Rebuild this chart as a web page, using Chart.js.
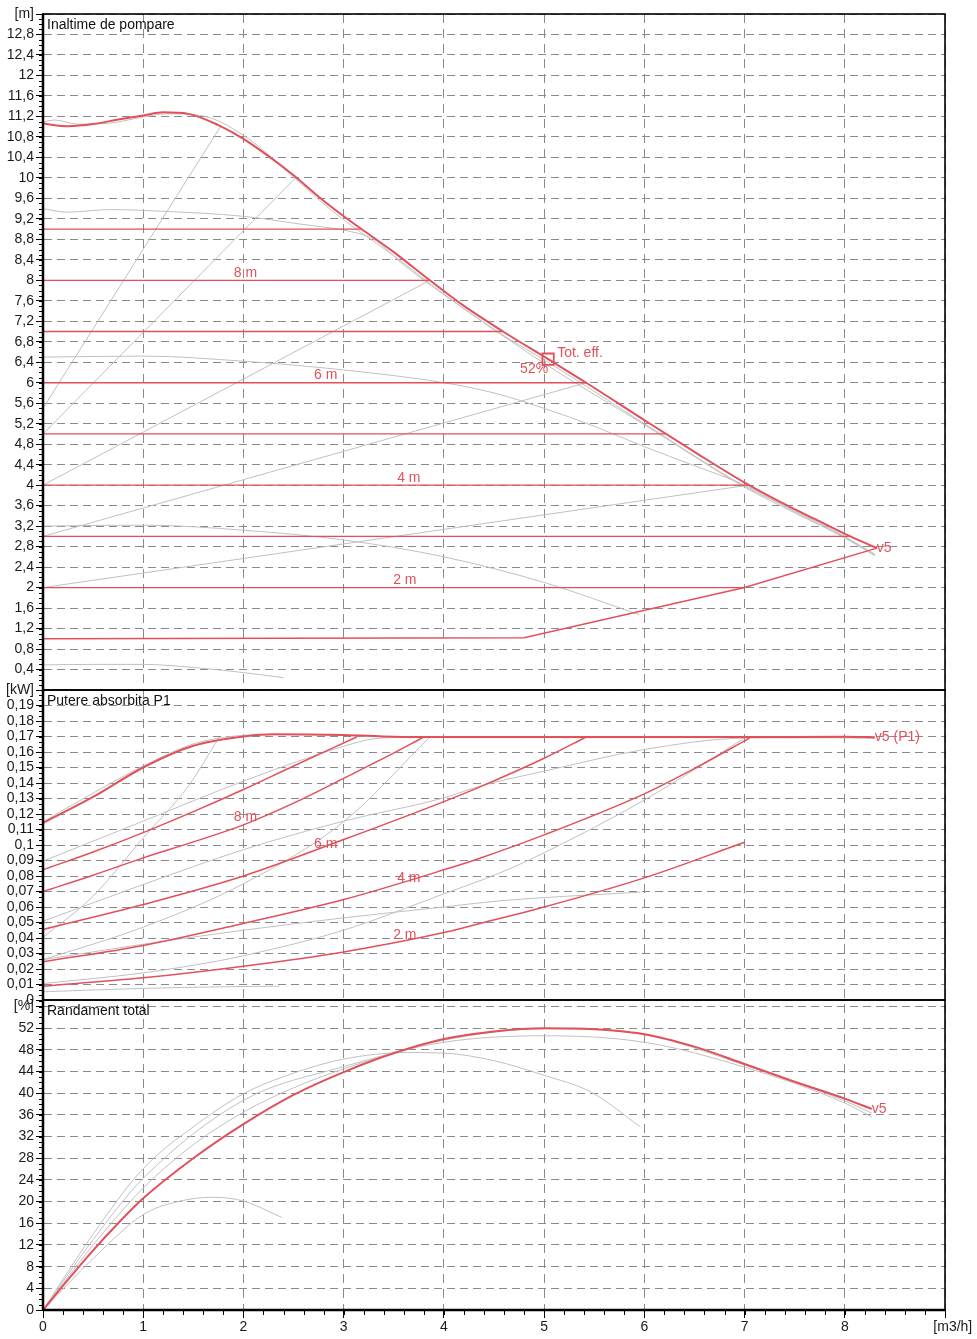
<!DOCTYPE html>
<html>
<head>
<meta charset="utf-8">
<script src="https://cdn.jsdelivr.net/npm/chart.js@4.4.0/dist/chart.umd.min.js"></script>
<style>
  html, body { margin: 0; padding: 0; background: #fff; }
  #wrap { width: 977px; height: 1339px; }
</style>
</head>
<body>
<div id="wrap"><canvas id="pumpChart" width="977" height="1339"></canvas></div>
<script>
// ---- axis ticks ----
const flowTicks = [0, 1, 2, 3, 4, 5, 6, 7, 8, 9];
const headTicks = [0, 0.4, 0.8, 1.2, 1.6, 2, 2.4, 2.8, 3.2, 3.6, 4, 4.4, 4.8, 5.2, 5.6, 6, 6.4, 6.8, 7.2, 7.6, 8,
    8.4, 8.8, 9.2, 9.6, 10, 10.4, 10.8, 11.2, 11.6, 12, 12.4, 12.8, 13.2];
const powerTicks = [0, 0.01, 0.02, 0.03, 0.04, 0.05, 0.06, 0.07, 0.08, 0.09, 0.1, 0.11, 0.12, 0.13, 0.14, 0.15,
    0.16, 0.17, 0.18, 0.19, 0.2];
const effTicks = [0, 4, 8, 12, 16, 20, 24, 28, 32, 36, 40, 44, 48, 52, 56];
const unitLabels = { x: '[m3/h]', yH: '[m]', yP: '[kW]', yE: '[%]' };
const panelTitles = { yH: 'Inaltime de pompare', yP: 'Putere absorbita P1', yE: 'Randament total' };

// ---- head panel ----
const qMax = [0, 0.25, 0.5, 0.75, 1.0, 1.2, 1.45, 1.75, 2.0, 2.5, 2.75, 3.0, 3.5, 3.86, 4.2, 4.59, 5.04, 5.42, 6.0, 6.5, 7.0, 7.35, 7.7, 8.0, 8.32];
const hMax = [11.06, 11.01, 11.05, 11.14, 11.22, 11.28, 11.25, 11.03, 10.76, 10.05, 9.63, 9.25, 8.55, 8.0, 7.5, 7.0, 6.46, 6.0, 5.27, 4.65, 4.05, 3.68, 3.34, 3.05, 2.77];
const qMin = [0, 4.8, 7.0, 8.32];
const hMin = [1.0, 1.02, 2.0, 2.77];
// constant pressure settings and where each line stops
const hConst = [9, 8, 7, 6, 5, 4, 3, 2];
const qConstEnd = [3.18, 3.86, 4.59, 5.42, 6.22, 7.04, 8.05, 7.0];
// proportional pressure lines (start head at zero flow, end point)
const hPropStart = [5.5, 5.0, 4.0, 3.0, 2.0];
const qPropEnd = [1.77, 2.52, 3.86, 5.42, 7.04];
const hPropEnd = [11.0, 10.0, 8.0, 6.0, 4.0];
// grey speed curves
const qSpd1 = [0, 0.12, 0.34, 0.67, 1.0, 1.23, 1.57, 2.0, 2.5, 2.76, 3.0, 3.5, 4.0, 4.59, 5.04, 5.42, 6.0, 7.0, 7.5, 8.0, 8.3];
const hSpd1 = [11.09, 11.13, 11.05, 11.07, 11.19, 11.25, 11.22, 10.83, 10.02, 9.56, 9.18, 8.48, 7.73, 6.93, 6.4, 5.93, 5.2, 3.98, 3.5, 3.0, 2.65];
const qSpd2 = [0, 0.24, 0.67, 1.17, 2.0, 2.56, 2.76, 3.0, 3.3, 3.6, 4.0, 5.0, 6.0, 7.0, 7.5, 8.0, 8.3];
const hSpd2 = [9.4, 9.33, 9.38, 9.35, 9.25, 9.1, 9.05, 8.98, 8.8, 8.3, 7.72, 6.38, 5.18, 3.96, 3.46, 2.97, 2.62];
const qSpd3 = [0, 1, 2, 3, 4, 4.5, 5, 5.5, 6, 6.5, 7, 7.5, 8, 8.3];
const hSpd3 = [6.5, 6.52, 6.42, 6.25, 6.0, 5.8, 5.5, 5.15, 4.75, 4.38, 4.0, 3.48, 2.98, 2.64];
const qSpd4 = [0, 1, 2, 3, 4, 5, 5.95];
const hSpd4 = [3.2, 3.22, 3.12, 2.93, 2.6, 2.1, 1.47];
const qSpd5 = [0, 0.5, 1, 1.5, 2, 2.4];
const hSpd5 = [0.49, 0.5, 0.5, 0.44, 0.34, 0.24];

// ---- power panel ----
const qPMax = [0, 0.5, 1, 1.5, 2, 2.3, 3, 3.5, 4, 5, 6, 7, 8, 8.3];
const pMax = [0.1143, 0.131, 0.15, 0.164, 0.17, 0.1715, 0.171, 0.1698, 0.1696, 0.1697, 0.1697, 0.1697, 0.1698, 0.1695];
const qP9 = [0, 0.5, 1, 1.5, 2, 2.5, 3.13];
const pP9 = [0.084, 0.0955, 0.108, 0.1215, 0.1358, 0.151, 0.1697];
const qP8 = [0, 0.5, 1, 1.5, 2, 2.5, 3, 3.4, 3.8];
const pP8 = [0.07, 0.0805, 0.0917, 0.102, 0.113, 0.127, 0.143, 0.156, 0.1697];
const qP6 = [0, 1, 2, 3, 4, 4.36, 5.0, 5.42];
const pP6 = [0.0455, 0.0616, 0.08, 0.1035, 0.128, 0.1375, 0.156, 0.1697];
const qP4 = [0, 1, 2, 3, 4, 4.36, 5, 6, 6.49, 7.05];
const pP4 = [0.0246, 0.0352, 0.0494, 0.0648, 0.084, 0.0915, 0.1065, 0.133, 0.149, 0.169];
const qP2 = [0, 1, 2, 3, 4, 4.36, 5, 6, 7];
const pP2 = [0.0089, 0.0143, 0.0218, 0.031, 0.0435, 0.0494, 0.06, 0.0788, 0.1018];
// grey power curves
const qGP1 = [0, 0.5, 1, 1.5, 1.9, 2.3, 3, 3.5, 4, 5, 6, 7, 8, 8.3];
const pGP1 = [0.115, 0.1335, 0.151, 0.1652, 0.1702, 0.1712, 0.1708, 0.1696, 0.1693, 0.1693, 0.1693, 0.1693, 0.1693, 0.169];
const qGP2 = [0, 1, 2, 3, 3.3, 3.6, 4, 5, 6, 7, 8, 8.3];
const pGP2 = [0.0896, 0.1154, 0.1412, 0.1637, 0.1685, 0.1693, 0.1693, 0.1693, 0.1693, 0.1693, 0.1693, 0.169];
const qGP3 = [0, 1, 2, 3, 4, 4.36, 5, 6, 7, 7.5, 8, 8.3];
const pGP3 = [0.0508, 0.0745, 0.097, 0.1154, 0.1304, 0.138, 0.1476, 0.1616, 0.169, 0.1692, 0.1692, 0.169];
const qGP4 = [0, 1, 2, 3, 4, 4.56, 5.96];
const pGP4 = [0.026, 0.036, 0.045, 0.053, 0.06, 0.064, 0.0696];
const qGP5 = [0, 1, 2, 2.36];
const pGP5 = [0.0053, 0.0075, 0.0087, 0.0089];
const qGP6 = [0, 1, 1.73, 2, 3, 4, 4.56, 5, 6, 7];
const pGP6 = [0.0106, 0.0175, 0.025, 0.0285, 0.045, 0.0685, 0.082, 0.095, 0.129, 0.169];
const qGP7 = [0, 0.5, 1, 1.45, 1.76];
const pGP7 = [0.0404, 0.067, 0.1046, 0.138, 0.1697];
const qGP8 = [0, 1, 2, 3, 3.86];
const pGP8 = [0.026, 0.047, 0.075, 0.115, 0.1697];

// ---- efficiency panel ----
const qEMax = [0, 0.25, 0.5, 0.75, 1, 1.5, 2, 2.49, 3, 3.52, 4, 4.5, 5, 5.3, 6, 6.5, 7, 7.47, 8, 8.27];
const eMax = [0, 5.6, 11, 16, 20.6, 28.0, 34.3, 39.6, 43.9, 47.5, 50.0, 51.4, 52.0, 51.95, 50.9, 48.6, 45.4, 42.3, 39.0, 37.1];
const qEA = [0, 0.5, 1, 1.5, 2, 2.5, 3, 3.64, 4, 4.5, 5, 5.47, 5.96];
const eA = [0, 14, 26.1, 33.8, 39.9, 43.7, 46.3, 47.5, 47.4, 46, 43.3, 40.2, 33.8];
const qEB = [0, 0.5, 1, 2, 3, 4, 5, 6, 7, 8, 8.27];
const eB = [0, 13, 24.3, 38.7, 44.9, 49.4, 50.6, 49.4, 44.8, 38.2, 35.6];
const qEC = [0, 0.5, 1, 1.5, 2, 2.5, 3, 3.5, 4, 5, 6, 7, 8, 8.27];
const eC = [0, 12, 22.5, 30.5, 36.5, 41, 44.5, 47.4, 49.8, 51.9, 50.8, 45.2, 38.6, 36.3];
const qED = [0, 0.5, 1, 1.3, 1.69, 2, 2.38];
const eD = [0, 9.5, 17.6, 19.8, 20.8, 20.1, 17.1];

// ---- duty point and labels ----
const dutyQ = [5.04];
const dutyH = [6.46];
const noteText = ['8 m', '6 m', '4 m', '2 m', '8 m', '6 m', '4 m', '2 m', 'Tot. eff.', '52%', 'v5', 'v5 (P1)', 'v5'];
const noteAxis = ['yH', 'yH', 'yH', 'yH', 'yP', 'yP', 'yP', 'yP', 'yH', 'yH', 'yH', 'yP', 'yE'];
const noteQ = [2.02, 2.82, 3.65, 3.61, 2.02, 2.82, 3.65, 3.61, 5.13, 5.04, 8.32, 8.3, 8.27];
const noteV = [8.14, 6.14, 4.14, 2.14, 0.118, 0.1003, 0.0784, 0.0416, 6.58, 6.27, 2.77, 0.1695, 37.1];

const RED = 'rgb(226,80,90)';
const GREY = 'rgb(192,192,192)';
const FONT = 'Liberation Sans';

const pts = (xs, ys) => xs.map((x, i) => ({ x: x, y: ys[i] }));

function line(xs, ys, axis, color, width, order, straight) {
    const ds = {
        data: pts(xs, ys),
        yAxisID: axis,
        borderColor: color,
        backgroundColor: color,
        borderWidth: width,
        showLine: true,
        pointRadius: 0,
        fill: false,
        order: order
    };
    if (straight) {
        ds.tension = 0;
    } else {
        ds.cubicInterpolationMode = 'monotone';
    }
    return ds;
}

const datasets = [];
// grey first (drawn below)
[[qSpd1, hSpd1], [qSpd2, hSpd2], [qSpd3, hSpd3], [qSpd4, hSpd4], [qSpd5, hSpd5]].forEach(c => datasets.push(line(c[0], c[1], 'yH', GREY, 1, 2)));
hPropStart.forEach((h, i) => datasets.push(line([0, qPropEnd[i]], [h, hPropEnd[i]], 'yH', GREY, 1, 2, true)));
[[qGP1, pGP1], [qGP2, pGP2], [qGP3, pGP3], [qGP4, pGP4], [qGP5, pGP5], [qGP6, pGP6], [qGP7, pGP7], [qGP8, pGP8]]
    .forEach(c => datasets.push(line(c[0], c[1], 'yP', GREY, 1, 2)));
[[qEA, eA], [qEB, eB], [qEC, eC], [qED, eD]].forEach(c => datasets.push(line(c[0], c[1], 'yE', GREY, 1, 2)));
// red
hConst.forEach((h, i) => datasets.push(line([0, qConstEnd[i]], [h, h], 'yH', RED, 1.3, 1, true)));
datasets.push(line(qMin, hMin, 'yH', RED, 1.5, 0, true));
datasets.push(line(qMax, hMax, 'yH', RED, 2, 0));
[[qP9, pP9], [qP8, pP8], [qP6, pP6], [qP4, pP4], [qP2, pP2]].forEach(c => datasets.push(line(c[0], c[1], 'yP', RED, 1.5, 1)));
datasets.push(line(qPMax, pMax, 'yP', RED, 2, 0));
datasets.push(line(qEMax, eMax, 'yE', RED, 2, 0));
datasets.push({
    data: pts(dutyQ, dutyH),
    yAxisID: 'yH',
    showLine: false,
    pointStyle: 'rect',
    pointRadius: 8,
    pointBorderWidth: 1.8,
    pointBorderColor: RED,
    pointBackgroundColor: 'rgba(0,0,0,0)',
    order: 0
});

const fmt = v => String(v).replace('.', ',');

function yScale(ticks, max, weight, label) {
    return {
        type: 'linear',
        position: 'left',
        stack: 'panels',
        stackWeight: weight,
        min: 0,
        max: max,
        afterBuildTicks: s => { s.ticks = ticks.map(v => ({ value: v })); },
        afterFit: s => { s.width = 43; },
        grid: {
            color: '#8a8a8a',
            lineWidth: 1,
            tickLength: 7,
            tickColor: '#000',
            tickWidth: 1
        },
        border: { display: true, color: '#000', width: 2, dash: [8, 5] },
        ticks: {
            autoSkip: false,
            padding: 2,
            color: '#1a1a1a',
            font: { family: FONT, size: 14 },
            callback: label
        }
    };
}

const frames = {
    id: 'frames',
    afterDraw(chart) {
        const ctx = chart.ctx;
        const a = chart.chartArea;
        ctx.save();
        // minor ruler ticks
        ctx.strokeStyle = '#000';
        ctx.lineWidth = 1;
        const minor = { yH: 0.1, yP: 0.01 / 3, yE: 1 };
        Object.keys(minor).forEach(id => {
            const s = chart.scales[id];
            ctx.beginPath();
            for (let v = s.min; v <= s.max + 1e-9; v += minor[id]) {
                const y = Math.round(s.getPixelForValue(v)) + 0.5;
                ctx.moveTo(a.left - 4, y);
                ctx.lineTo(a.left, y);
            }
            ctx.stroke();
        });
        const sx = chart.scales.x;
        ctx.beginPath();
        for (let v = 0; v <= 9 + 1e-9; v += 0.2) {
            const x = Math.round(sx.getPixelForValue(v)) + 0.5;
            ctx.moveTo(x, a.bottom);
            ctx.lineTo(x, a.bottom + 5);
        }
        ctx.stroke();
        // panel frames and titles
        ctx.lineWidth = 1.6;
        ctx.font = '14px "' + FONT + '"';
        ctx.textBaseline = 'top';
        ctx.textAlign = 'left';
        ['yH', 'yP', 'yE'].forEach(id => {
            const s = chart.scales[id];
            ctx.strokeStyle = '#000';
            ctx.strokeRect(a.left, s.top, a.right - a.left, s.bottom - s.top);
            ctx.fillStyle = '#111';
            ctx.fillText(panelTitles[id], a.left + 4, s.top + 4);
        });
        ctx.lineWidth = 2.5;
        ctx.beginPath();
        ctx.moveTo(a.left, a.bottom);
        ctx.lineTo(a.right, a.bottom);
        ctx.moveTo(a.left, a.top);
        ctx.lineTo(a.left, a.bottom);
        ctx.stroke();
        // red notes
        ctx.fillStyle = RED;
        ctx.textBaseline = 'middle';
        noteText.forEach((t, i) => {
            const x = sx.getPixelForValue(noteQ[i]);
            const y = chart.scales[noteAxis[i]].getPixelForValue(noteV[i]);
            if (t === '52%') {
                ctx.textAlign = 'right';
            } else if (t.startsWith('v5') || t === 'Tot. eff.') {
                ctx.textAlign = 'left';
            } else {
                ctx.textAlign = 'center';
            }
            ctx.fillText(t, x, y);
        });
        ctx.restore();
    }
};

new Chart(document.getElementById('pumpChart'), {
    type: 'scatter',
    data: { datasets: datasets },
    options: {
        responsive: false,
        animation: false,
        layout: { padding: { left: 0, right: 32, top: 14, bottom: 0 } },
        plugins: { legend: { display: false }, tooltip: { enabled: false } },
        scales: {
            x: {
                type: 'linear',
                min: 0,
                max: 9,
                afterBuildTicks: s => { s.ticks = flowTicks.map(v => ({ value: v })); },
                afterFit: s => { s.height = 29; },
                grid: { color: '#8a8a8a', tickLength: 8, tickColor: '#000' },
                border: { display: true, color: '#000', width: 2, dash: [9, 6] },
                ticks: {
                    autoSkip: false,
                    padding: 1,
                    maxRotation: 0,
                    color: '#1a1a1a',
                    font: { family: FONT, size: 14 },
                    callback: v => v === 9 ? '    ' + unitLabels.x : String(v)
                }
            },
            yE: yScale(effTicks, 57.2, 310, v => v === 56 ? unitLabels.yE : String(v)),
            yP: yScale(powerTicks, 0.2, 310, v => v === 0.2 ? unitLabels.yP : fmt(v)),
            yH: yScale(headTicks, 13.2, 676, v => v === 13.2 ? unitLabels.yH : (v === 0 ? '' : fmt(v)))
        }
    },
    plugins: [frames]
});
</script>
</body>
</html>
